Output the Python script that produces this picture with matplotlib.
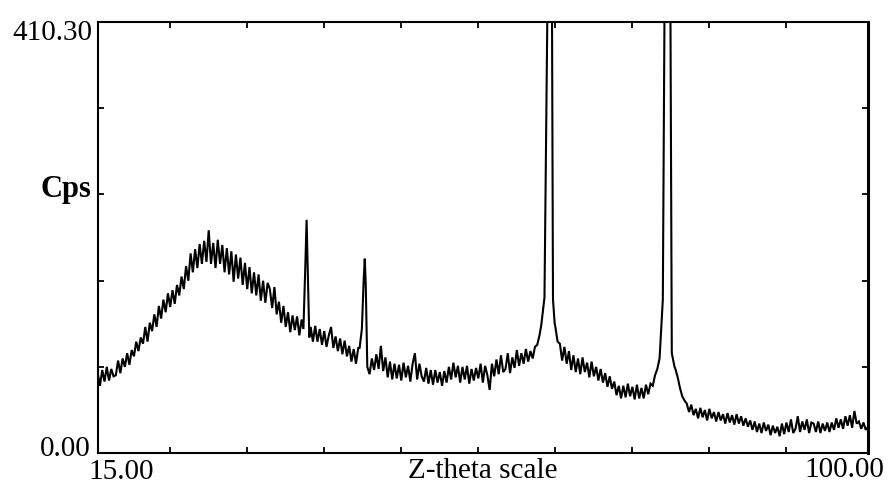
import numpy as np
import matplotlib
matplotlib.use("Agg")
import matplotlib.pyplot as plt

N = np.nan

# Scan grid: 2-theta from 15.00 to 100.00 in 0.25 degree steps
two_theta_start = 15.0
two_theta_step = 0.25

counts = [
    76, 64, 79, 68,      # 15
    82, 69, 80, 73,      # 16
    74, 88, 76, 90,      # 17
    82, 95, 84, 98,      # 18
    92, 106, 97, 110,    # 19
    104, 120, 106, 124,  # 20
    116, 132, 120, 140,  # 21
    128, 146, 134, 152,  # 22
    139, 155, 142, 160,  # 23
    150, 168, 156, 178,  # 24
    164, 190, 172, 194,  # 25
    176, 199, 180, 202,  # 26
    182, 212, 180, 200,  # 27
    176, 203, 180, 198,  # 28
    172, 195, 170, 192,  # 29
    163, 189, 166, 186,  # 30
    160, 181, 156, 177,  # 31
    152, 172, 150, 170,  # 32
    145, 164, 143, 162,  # 33
    156, 138, 158, 132,  # 34
    144, 124, 140, 120,  # 35
    134, 115, 131, 117,  # 36
    130, 112, 127, N,    # 37
    N, N, 120, 106,      # 38
    121, 106, 118, 103,  # 39
    116, 101, 112, 120,  # 40
    100, 111, 97, 109,   # 41
    94, 107, 92, 102,    # 42
    87, 99, 85, 100,     # 43
    N, N, N, N,          # 44
    75, 90, 79, 94,      # 45
    80, 102, 78, 91,     # 46
    72, 87, 70, 85,      # 47
    71, 84, 69, 86,      # 48
    72, 83, 68, 85,      # 49
    95, 70, 85, 73,      # 50
    68, 81, 66, 79,      # 51
    65, 79, 67, 77,      # 52
    64, 78, 67, 82,      # 53
    70, 86, 72, 83,      # 54
    67, 82, 70, 83,      # 55
    66, 80, 69, 81,      # 56
    71, 85, 67, 83,      # 57
    74, 60, 85, 73,      # 58
    89, 75, 93, 77,      # 59
    80, 95, 76, 91,      # 60
    81, 98, 83, 95,      # 61
    85, 99, 87, 97,      # 62
    90, 101, 103, 112,   # 63
    N, N, N, N,          # 64
    N, N, 120, 106,      # 65
    104, 88, 101, 85,    # 66
    97, 79, 93, 77,      # 67
    90, 75, 91, 77,      # 68
    86, 72, 87, 73,      # 69
    82, 69, 80, 67,      # 70
    76, 63, 73, 61,      # 71
    68, 55, 64, 52,      # 72
    64, 53, 66, 54,      # 73
    63, 51, 65, 52,      # 74
    62, 52, 65, 56,      # 75
    66, 64, 74, 80,      # 76
    N, N, N, N,          # 77
    N, N, N, 80,         # 78
    72, 62, 54, 50,      # 79
    47, 39, 46, 36,      # 80
    42, 33, 43, 34,      # 81
    41, 31, 42, 33,      # 82
    39, 30, 39, 31,      # 83
    37, 28, 38, 29,      # 84
    36, 27, 37, 28,      # 85
    35, 26, 33, 25,      # 86
    31, 22, 30, 20,      # 87
    28, 19, 29, 21,      # 88
    27, 17, 26, 19,      # 89
    25, 16, 28, 18,      # 90
    29, 20, 32, 19,      # 91
    23, 35, 20, 30,      # 92
    22, 32, 19, 29,      # 93
    28, 20, 30, 19,      # 94
    28, 21, 29, 20,      # 95
    29, 22, 33, 24,      # 96
    32, 23, 35, 26,      # 97
    36, 24, 40, 28,      # 98
    30, 23, 29, 22,      # 99
    25,                  # 100
]

# Reflections (finer sampling across each peak)
peak_theta = [37.70, 37.90, 38.05, 38.20, 38.35,
              43.90, 44.15, 44.35, 44.47, 44.58, 44.75,
              63.95, 64.30, 64.62, 64.87, 65.13, 65.24, 65.42,
              77.00, 77.36, 77.55, 77.88, 78.20, 78.35, 78.65]
peak_counts = [118, 175, 222, 165, 110,
               100, 118, 165, 185, 160, 82,
               122, 148, 420, 2400, 420, 146, 124,
               90, 146, 420, 2200, 420, 95, 82]

x_min, x_max = 15.00, 100.00
y_min, y_max = 0.00, 410.30

# ---- build the trace ----
counts_arr = np.array(counts, dtype=float)
grid_theta = two_theta_start + two_theta_step * np.arange(len(counts_arr))
keep = ~np.isnan(counts_arr)
theta = np.concatenate([grid_theta[keep], np.array(peak_theta)])
cps = np.concatenate([counts_arr[keep], np.array(peak_counts, dtype=float)])
order = np.argsort(theta)
theta, cps = theta[order], cps[order]

W, H = 890, 484
fig = plt.figure(figsize=(W / 100, H / 100), dpi=100)
fig.patch.set_facecolor("white")
L, R, T, B = 97.7, 868.0, 22.0, 453.0
ax = fig.add_axes([L / W, 1 - B / H, (R - L) / W, (B - T) / H])

ax.plot(theta, cps, color="black", lw=1.5, solid_joinstyle="miter")
ax.set_xlim(x_min, x_max)
ax.set_ylim(y_min, y_max)

ax.set_xticks([23, 31.5, 40, 48.5, 57, 65.5, 74, 82.5, 91])
ax.set_yticks([y_max * k / 5 for k in range(1, 5)])
ax.tick_params(direction="in", length=4, width=1.3, color="black",
               top=True, right=True, labelbottom=False, labelleft=False)
for side, spine in ax.spines.items():
    spine.set_color("black")
    spine.set_linewidth(1.5)
ax.spines["right"].set_linewidth(2.2)

serif = ["Liberation Serif", "DejaVu Serif"]
def px_text(x, y, s, ha, size, weight="normal"):
    fig.text(x / W, 1 - y / H, s, ha=ha, va="baseline", fontsize=size,
             family=serif, weight=weight, color="black")

px_text(92, 40, "410.30", "right", 21)
px_text(91, 456.5, "0.00", "right", 21)
px_text(88, 479, "15.00", "left", 21)
px_text(884, 477, "100.00", "right", 21)
px_text(483, 477.5, "Z-theta scale", "center", 21)
px_text(91, 197, "Cps", "right", 22, weight="bold")

fig.savefig("out.png", dpi=100, facecolor="white")
